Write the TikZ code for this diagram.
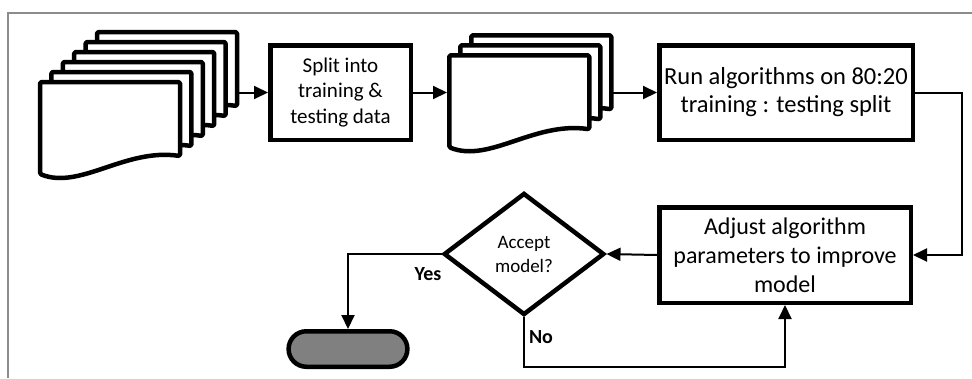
\documentclass[tikz,border=0pt]{standalone}
\usepackage{fontspec}
\setmainfont{Carlito}
\usetikzlibrary{shapes.geometric,shapes.misc,arrows.meta}
\definecolor{framegray}{RGB}{140,140,140}
\definecolor{termfill}{RGB}{128,128,128}
\tikzset{
  sheet/.style={draw=black, fill=white, line width=4.5pt, line join=round, rounded corners=1.5pt},
  procbox/.style={draw, line width=4.5pt, align=center, inner sep=0pt},
  flow/.style={line width=2pt, -{Triangle[length=14pt,width=13pt]}},
  lbl/.style={font=\fontsize{20}{24}\selectfont\bfseries, inner sep=0pt},
}
% one document sheet, top-left corner of its outline at (#1,#2)
\newcommand\sheetat[2]{%
  \draw[sheet, shift={(#1,#2)}] (0,0) -- (140,0) -- (140,74)
    .. controls (85,66) and (40,108) .. (0,92) -- cycle;}
\begin{document}
\begin{tikzpicture}[x=1pt, y=-1pt]
\useasboundingbox (0,0) rectangle (972,378);

% frame
\draw[framegray, line width=2pt] (972,13) -- (8,13) -- (8,378);

% first document stack (six sheets, back to front)
\foreach \i in {5,4,...,0} {\sheetat{40+11.4*\i}{82-10*\i}}
% second document stack (three sheets)
\foreach \i in {2,1,0} {\sheetat{449.25+11*\i}{55.25-10*\i}}

\coordinate (stackA) at (237,92.5);
\coordinate (stackB) at (447,92.5);
\coordinate (stackC) at (610,92.5);

\node[procbox, minimum width=140.5pt, minimum height=94.5pt,
      font=\fontsize{21}{25.5}\selectfont] (split) at (340.5,92.5)
      {Split into\\training \&\\testing data};
\node[procbox, minimum width=253.5pt, minimum height=94.5pt,
      font=\fontsize{24.5}{28}\selectfont] (run) at (786,92.5)
      {Run algorithms on 80:20\\training : testing split};
\node[procbox, minimum width=251.5pt, minimum height=95.5pt,
      font=\fontsize{24}{29}\selectfont] (adjust) at (785,255)
      {Adjust algorithm\\parameters to improve\\model};
\node[diamond, draw, line width=4.5pt, minimum width=160.5pt, minimum height=122pt,
      inner sep=0pt, align=center, font=\fontsize{19}{24}\selectfont] (accept) at (524,254)
      {Accept\\model?};
\node[rounded rectangle, draw, line width=4.5pt, fill=termfill,
      minimum width=125.5pt, minimum height=35.5pt] (stop) at (348,349) {};

\coordinate (bend) at (962,170);
\coordinate (nobend) at (650,367);

\draw[flow] (stackA) -- (split.west);
\draw[flow] (split.east) -- (stackB);
\draw[flow] (stackC) -- (run.west);
\draw[flow] (run.east) -| (bend) |- (adjust.east);
\draw[flow] (adjust.west) -- (accept.east);
\draw[flow] (accept.west) -| (stop.north);
\draw[flow] (accept.south) |- (nobend) -| (adjust.south);

\node[lbl] (yes) at (428,274) {Yes};
\node[lbl] (no) at (541,337) {No};
\end{tikzpicture}
\end{document}
